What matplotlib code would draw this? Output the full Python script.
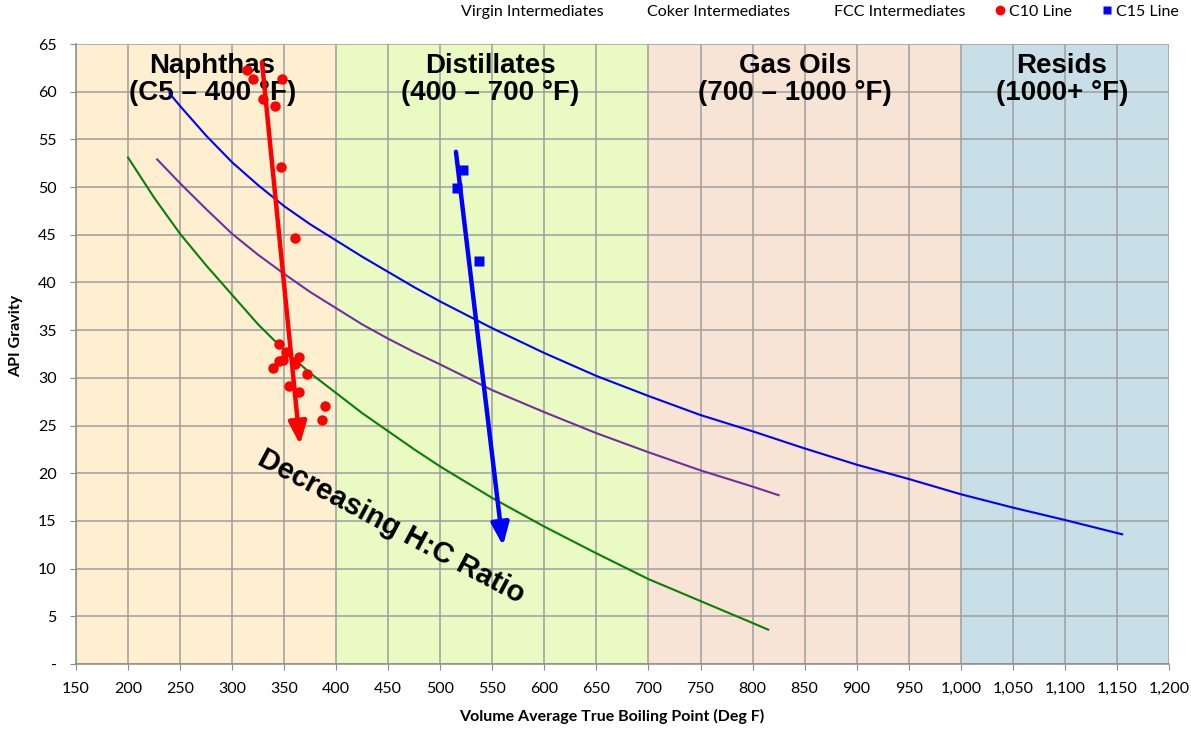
import matplotlib
matplotlib.use("Agg")
import matplotlib.pyplot as plt
from matplotlib.lines import Line2D
from matplotlib.ticker import FuncFormatter, MultipleLocator

plt.rcParams['font.family'] = ['Lato', 'DejaVu Sans']

# boiling range regions
band_edges = [150, 400, 700, 1000, 1200]
band_colors = ['#fdefcf', '#eafac3', '#f8e4d5', '#c9dfe8']
band_titles = ['Naphthas\n(C5 \u2013 400 \u00b0F)', 'Distillates\n(400 \u2013 700 \u00b0F)',
               'Gas Oils\n(700 \u2013 1000 \u00b0F)', 'Resids\n(1000+ \u00b0F)']
band_title_x = [281, 548, 841, 1097]

# Virgin intermediates (blue curve)
virgin_x = [240, 250, 275, 300, 325, 350, 375, 400, 425, 450, 475, 500, 550, 600,
            650, 700, 750, 800, 850, 900, 950, 1000, 1050, 1100, 1155]
virgin_y = [59.8, 58.5, 55.4, 52.6, 50.2, 48.0, 46.1, 44.4, 42.7, 41.1, 39.5,
            38.0, 35.2, 32.6, 30.2, 28.1, 26.1, 24.4, 22.6, 20.9, 19.4, 17.8,
            16.4, 15.1, 13.6]

# Coker intermediates (purple curve)
coker_x = [228, 250, 275, 300, 325, 350, 375, 400, 425, 450, 475, 500, 550, 600,
           650, 700, 750, 800, 825]
coker_y = [52.9, 50.4, 47.7, 45.1, 42.9, 40.9, 39.0, 37.3, 35.6, 34.1, 32.7,
           31.4, 28.7, 26.4, 24.2, 22.2, 20.3, 18.6, 17.7]

# FCC intermediates (green curve)
fcc_x = [200, 225, 250, 275, 300, 325, 350, 375, 400, 425, 450, 475, 500, 550,
         600, 650, 700, 750, 800, 815]
fcc_y = [53.1, 48.9, 45.1, 41.8, 38.7, 35.6, 32.9, 30.5, 28.4, 26.3, 24.4, 22.5,
         20.7, 17.4, 14.4, 11.6, 8.9, 6.6, 4.3, 3.6]

# C10 points
c10_x = [314.6, 319.7, 329.9, 341.4, 347.9, 347.2, 360.1, 345.3, 351.7, 348.5,
         344.7, 364.5, 360.7, 339.0, 371.5, 354.9, 364.5, 388.8, 386.3]
c10_y = [62.3, 61.3, 59.2, 58.5, 61.3, 52.1, 44.7, 33.5, 32.7, 31.9, 31.8,
         32.2, 31.5, 31.0, 30.4, 29.1, 28.5, 27.1, 25.6]

# C15 points
c15_x = [521.5, 516.3, 536.8]
c15_y = [51.8, 49.9, 42.2]

# trend arrows (start, end)
c10_arrow = [(328.7, 63.1), (365.2, 23.0)]
c15_arrow = [(515.0, 53.7), (560.2, 12.4)]

fig = plt.figure(figsize=(11.91, 7.30), dpi=100)
ax = fig.add_axes([0.0638, 0.0904, 0.9177, 0.8493])

for i, c in enumerate(band_colors):
    ax.axvspan(band_edges[i], band_edges[i + 1], color=c, zorder=0, lw=0)

ax.set_xlim(150, 1200)
ax.set_ylim(0, 65)
ax.xaxis.set_major_locator(MultipleLocator(50))
ax.yaxis.set_major_locator(MultipleLocator(5))
ax.set_axisbelow(True)
ax.grid(True, color='#9e9e9e', lw=1.1)
for s in ['top', 'right']:
    ax.spines[s].set_visible(False)
for s in ['left', 'bottom']:
    ax.spines[s].set_color('#8c8c8c')
    ax.spines[s].set_linewidth(1.1)
ax.tick_params(direction='out', length=4, color='#8c8c8c', labelsize=11.5)
ax.tick_params(axis='x', pad=9)
ax.tick_params(axis='y', pad=10)
ax.xaxis.set_major_formatter(FuncFormatter(lambda v, p: '{:,}'.format(int(v))))
ax.yaxis.set_major_formatter(FuncFormatter(lambda v, p: '-' if v == 0 else str(int(v))))

ax.set_xlabel('Volume Average True Boiling Point (Deg F)', fontsize=11.5, fontweight='bold')
ax.set_ylabel('API Gravity', fontsize=11.5, fontweight='bold')
ax.xaxis.set_label_coords(0.49, -0.072)
ax.yaxis.set_label_coords(-0.048, 0.53)

title_font = ['Liberation Sans Narrow', 'Liberation Sans', 'DejaVu Sans']
for t, x in zip(band_titles, band_title_x):
    ax.text(x, 61.3, t, ha='center', va='center', fontsize=20, fontweight='bold',
            family=title_font, linespacing=1.07, zorder=2)

ax.plot(virgin_x, virgin_y, color='#0000ff', lw=1.5, zorder=3)
ax.plot(coker_x, coker_y, color='#7030a0', lw=1.5, zorder=3)
ax.plot(fcc_x, fcc_y, color='#0b7d0b', lw=1.5, zorder=3)

ax.plot(c10_x, c10_y, 'o', color='#ff0000', ms=7.5, mec='none', zorder=4)
ax.plot(c15_x, c15_y, 's', color='#0000ff', ms=6.5, mec='none', zorder=4)

for arr, col in [(c10_arrow, '#ff0000'), (c15_arrow, '#0000ff')]:
    ax.annotate('', xy=arr[1], xytext=arr[0], zorder=5,
                arrowprops=dict(arrowstyle='-|>,head_length=0.8,head_width=0.32',
                                color=col, lw=3.2, mutation_scale=17,
                                shrinkA=0, shrinkB=0))

ax.text(452.6, 14.4, 'Decreasing H:C Ratio', rotation=-28, rotation_mode='anchor',
        ha='center', va='center', fontsize=21, fontweight='bold',
        family=['Liberation Sans', 'DejaVu Sans'], zorder=2)

handles = [Line2D([], [], ls='none'), Line2D([], [], ls='none'), Line2D([], [], ls='none'),
           Line2D([], [], ls='none', marker='o', color='#ff0000', ms=7, mec='none'),
           Line2D([], [], ls='none', marker='s', color='#0000ff', ms=6, mec='none')]
labels = ['Virgin Intermediates', 'Coker Intermediates', 'FCC Intermediates',
          'C10 Line', 'C15 Line']
fig.legend(handles, labels, loc='upper right', bbox_to_anchor=(1.002, 1.013), ncol=5,
           frameon=False, fontsize=11.5, handlelength=0.8, handletextpad=0.2,
           columnspacing=1.75)

fig.savefig('out.png', dpi=100)
